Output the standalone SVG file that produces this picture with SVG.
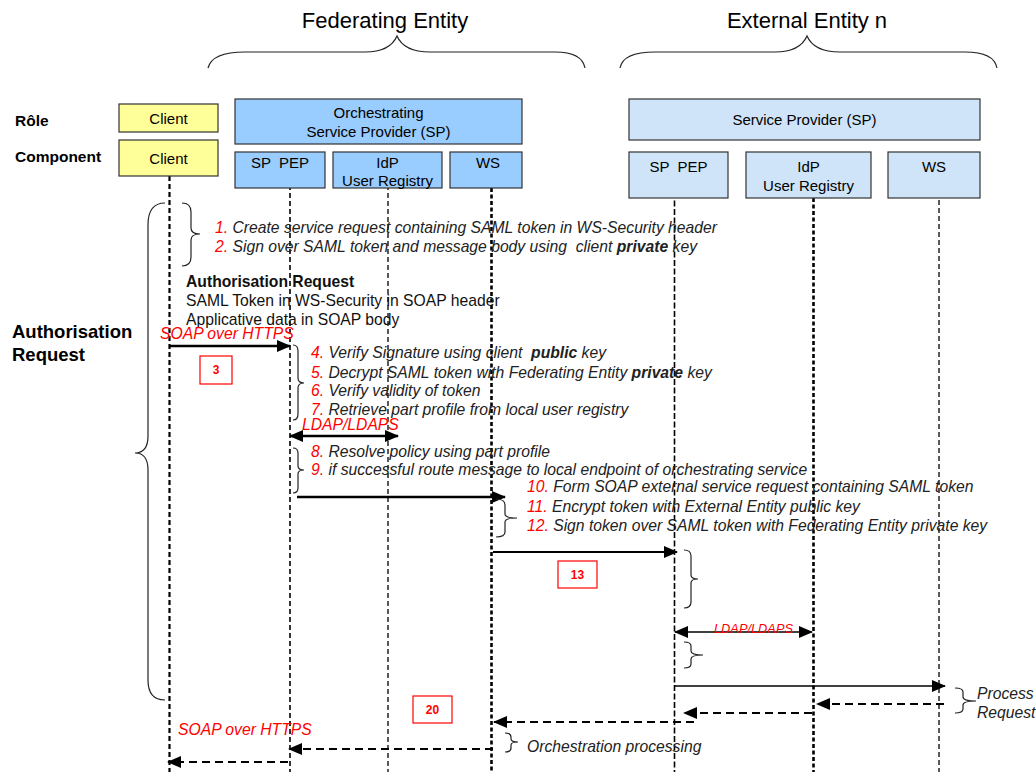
<svg xmlns="http://www.w3.org/2000/svg" width="1036" height="772" viewBox="0 0 1036 772">
<defs>
<style>
text{font-family:"Liberation Sans",Arial,sans-serif;fill:#000}
.title{font-size:22px}
.lbl{font-size:15px;white-space:pre}
.hdr{font-size:15.5px;font-weight:bold}
.big{font-size:18.5px;font-weight:bold}
.step{font-size:15.7px;font-style:italic;fill:#222;white-space:pre}
.small{font-size:12.8px}
.red{fill:#ff0000}
.body{font-size:15.7px;fill:#111}
.yel{fill:#ffff99;stroke:#333;stroke-width:1.2}
.blu{fill:#99ccff;stroke:#333;stroke-width:1.2}
.lblu{fill:#cfe4f8;stroke:#333;stroke-width:1.2}
.brace{fill:none;stroke:#222;stroke-width:1.2}
.life{fill:none;stroke:#000}
.numbox{fill:#fff;stroke:#ff0000;stroke-width:1.2}
.num{font-size:12px;font-weight:bold;fill:#ff0000}
.arr{fill:none;stroke:#000}
.dash{stroke-dasharray:8 5}
</style>
<marker id="ah" markerUnits="userSpaceOnUse" markerWidth="14" markerHeight="12" viewBox="0 0 14 12" refX="13" refY="6" orient="auto"><path d="M0,0 L14,6 L0,12 z" fill="#000"/></marker>
<marker id="ahs" markerUnits="userSpaceOnUse" markerWidth="14" markerHeight="12" viewBox="0 0 14 12" refX="1" refY="6" orient="auto"><path d="M14,0 L0,6 L14,12 z" fill="#000"/></marker>
</defs>
<rect width="1036" height="772" fill="#fff"/>

<g id="titles">
<text class="title" x="385" y="28" text-anchor="middle">Federating Entity</text>
<text class="title" x="807" y="28" text-anchor="middle">External Entity n</text>
<path class="brace" d="M208,68 Q212,52 245,52 L365,52 Q390,52 397,36 Q404,52 430,52 L555,52 Q582,52 585,68"/>
<path class="brace" d="M620,68 Q623,52 655,52 L775,52 Q800,52 807,36 Q814,52 840,52 L965,52 Q994,52 997,68"/>
<text class="hdr" x="15" y="126">Rôle</text>
<text class="hdr" x="15" y="162">Component</text>
</g>

<g id="lifelines">
<line class="life" x1="169.5" y1="176" x2="169.5" y2="772" stroke-width="2.2" stroke-dasharray="5 3"/>
<line class="life" x1="290" y1="185" x2="290" y2="772" stroke-width="1.6" stroke-dasharray="5 3"/>
<line class="life" x1="388" y1="185" x2="388" y2="772" stroke-width="1.3" stroke-dasharray="5 3"/>
<line class="life" x1="491.5" y1="188" x2="491.5" y2="772" stroke-width="2.6" stroke-dasharray="4 2.5"/>
<line class="life" x1="674.5" y1="192" x2="674.5" y2="772" stroke-width="1.6" stroke-dasharray="6 2.5"/>
<line class="life" x1="813.5" y1="198" x2="813.5" y2="772" stroke-width="2.6" stroke-dasharray="4 2.5"/>
<line class="life" x1="939" y1="192" x2="939" y2="772" stroke-width="1.3" stroke-dasharray="5 3"/>
</g>

<g id="client-role"><rect class="yel" x="119" y="104" width="99" height="28"/><text class="lbl" x="168.5" y="123.5" text-anchor="middle">Client</text></g>
<g id="client-comp"><rect class="yel" x="119" y="140" width="99" height="36"/><text class="lbl" x="168.5" y="163.5" text-anchor="middle">Client</text></g>
<g id="orch-sp"><rect class="blu" x="235" y="99" width="287" height="45"/><text class="lbl" x="378.5" y="118" text-anchor="middle">Orchestrating</text><text class="lbl" x="378.5" y="137" text-anchor="middle">Service Provider (SP)</text></g>
<g id="fed-sppep"><rect class="blu" x="235" y="152" width="90" height="36"/><text class="lbl" x="280" y="168" text-anchor="middle" xml:space="preserve">SP  PEP</text></g>
<g id="fed-idp"><rect class="blu" x="333" y="152" width="109" height="36"/><text class="lbl" x="387.5" y="168" text-anchor="middle">IdP</text><text class="lbl" x="387.5" y="186" text-anchor="middle">User Registry</text></g>
<g id="fed-ws"><rect class="blu" x="450" y="152" width="72" height="36"/><text class="lbl" x="488" y="168" text-anchor="middle">WS</text></g>
<g id="ext-sp"><rect class="lblu" x="629" y="99" width="351" height="41"/><text class="lbl" x="804.5" y="125" text-anchor="middle">Service Provider (SP)</text></g>
<g id="ext-sppep"><rect class="lblu" x="629" y="152" width="99" height="46"/><text class="lbl" x="678.5" y="172" text-anchor="middle" xml:space="preserve">SP  PEP</text></g>
<g id="ext-idp"><rect class="lblu" x="746" y="152" width="125" height="46"/><text class="lbl" x="808.5" y="172" text-anchor="middle">IdP</text><text class="lbl" x="808.5" y="191" text-anchor="middle">User Registry</text></g>
<g id="ext-ws"><rect class="lblu" x="888" y="152" width="92" height="46"/><text class="lbl" x="934" y="172" text-anchor="middle">WS</text></g>

<g id="connectors">
<line class="arr" x1="170" y1="346" x2="290" y2="346" stroke-width="2.6" marker-end="url(#ah)"/>
<line class="arr" x1="290" y1="436" x2="398" y2="436" stroke-width="2.6" marker-start="url(#ahs)" marker-end="url(#ah)"/>
<line class="arr" x1="297" y1="497" x2="505" y2="497" stroke-width="2.6" marker-end="url(#ah)"/>
<line class="arr" x1="493" y1="552" x2="677" y2="552" stroke-width="2" marker-end="url(#ah)"/>
<line class="arr" x1="675" y1="632" x2="812" y2="632" stroke-width="1.6" marker-start="url(#ahs)" marker-end="url(#ah)"/>
<line class="arr" x1="675" y1="686" x2="945" y2="686" stroke-width="1.6" marker-end="url(#ah)"/>
<line class="arr dash" x1="944" y1="704" x2="817" y2="704" stroke-width="2.2" marker-end="url(#ah)"/>
<line class="arr dash" x1="812" y1="713" x2="684" y2="713" stroke-width="2.2" marker-end="url(#ah)"/>
<line class="arr dash" x1="694" y1="722" x2="494" y2="722" stroke-width="2.2" marker-end="url(#ah)"/>
<line class="arr dash" x1="493" y1="749" x2="289" y2="749" stroke-width="2.2" marker-end="url(#ah)"/>
<line class="arr dash" x1="288" y1="762" x2="168" y2="762" stroke-width="2.2" marker-end="url(#ah)"/>
</g>

<g id="braces">
<path class="brace" d="M165,203 Q148,203 148,225 L148,436 Q148,453 135,453 Q148,453 148,470 L148,680 Q148,700 165,700"/>
<path class="brace" d="M182,203 Q191,203 191,212 L191,228 Q191,234 200,234 Q191,234 191,240 L191,257 Q191,266 182,266"/>
<path class="brace" d="M293,345 Q298,345 298,351 L298,378 Q298,383 304,383 Q298,383 298,388 L298,414 Q298,420 293,420"/>
<path class="brace" d="M293,448 Q298,448 298,453 L298,466 Q298,470 304,470 Q298,470 298,474 L298,488 Q298,493 293,493"/>
<path class="brace" d="M496,499 Q505,499 505,505 L505,514 Q505,518 517,518 Q505,518 505,522 L505,532 Q505,537 496,537"/>
<path class="brace" d="M684,550 Q691,550 691,556 L691,575 Q691,579 698,579 Q691,579 691,583 L691,602 Q691,608 684,608"/>
<path class="brace" d="M684,642 Q691,642 691,646 L691,651 Q691,655 703,655 Q691,655 691,659 L691,664 Q691,668 684,668"/>
<path class="brace" d="M955,688 Q963,688 963,692 L963,697 Q963,701 976,701 Q963,701 963,705 L963,709 Q963,713 955,713"/>
<path class="brace" d="M505,733 Q511,733 511,737 L511,739 Q511,742 518,742 Q511,742 511,745 L511,748 Q511,752 505,752"/>
</g>

<g id="labels">
<text class="step" x="215" y="233"><tspan class="red">1.</tspan> Create service request containing SAML token in WS-Security header</text>
<text class="step" x="215" y="252" xml:space="preserve"><tspan class="red">2.</tspan> Sign over SAML token and message body using  client <tspan font-weight="bold">private</tspan> key</text>
<text class="body" x="186" y="287" font-weight="bold">Authorisation Request</text>
<text class="body" x="186" y="306">SAML Token in WS-Security in SOAP header</text>
<text class="body" x="186" y="325">Applicative data in SOAP body</text>
<text class="big" x="12" y="338">Authorisation</text>
<text class="big" x="12" y="361">Request</text>
<text class="step red" x="160" y="339">SOAP over HTTPS</text>
<rect class="numbox" x="200" y="356" width="32" height="28"/><text class="num" x="216" y="374" text-anchor="middle">3</text>
<text class="step" x="311" y="358" xml:space="preserve"><tspan class="red">4.</tspan> Verify Signature using client  <tspan font-weight="bold">public</tspan> key</text>
<text class="step" x="311" y="378"><tspan class="red">5.</tspan> Decrypt SAML token with Federating Entity <tspan font-weight="bold">private</tspan> key</text>
<text class="step" x="311" y="396"><tspan class="red">6.</tspan> Verify validity of token</text>
<text class="step" x="311" y="415"><tspan class="red">7.</tspan> Retrieve part profile from local user registry</text>
<text class="step red" x="302" y="430">LDAP/LDAPS</text>
<text class="step" x="311" y="457"><tspan class="red">8.</tspan> Resolve policy using part profile</text>
<text class="step" x="311" y="475"><tspan class="red">9.</tspan> if successful route message to local endpoint of orchestrating service</text>
<text class="step" x="527" y="492"><tspan class="red">10.</tspan> Form SOAP external service request containing SAML token</text>
<text class="step" x="527" y="512"><tspan class="red">11.</tspan> Encrypt token with External Entity public key</text>
<text class="step" x="527" y="531"><tspan class="red">12.</tspan> Sign token over SAML token with Federating Entity private key</text>
<rect class="numbox" x="558" y="561" width="39" height="27"/><text class="num" x="577.5" y="579" text-anchor="middle">13</text>
<text class="step small red" x="714" y="633">LDAP/LDAPS</text>
<text class="step" x="977" y="699">Process</text>
<text class="step" x="977" y="718">Request</text>
<rect class="numbox" x="413" y="696" width="39" height="27"/><text class="num" x="432.5" y="714" text-anchor="middle">20</text>
<text class="step red" x="178" y="735">SOAP over HTTPS</text>
<text class="step" x="527" y="752">Orchestration processing</text>
</g>
</svg>
